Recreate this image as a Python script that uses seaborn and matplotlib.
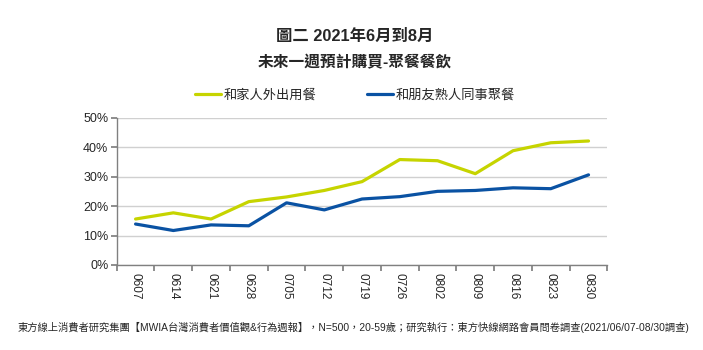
import pandas as pd
import numpy as np
import matplotlib
matplotlib.use("Agg")
import matplotlib.pyplot as plt
import seaborn as sns

# data (percent)
weeks = ["0607", "0614", "0621", "0628", "0705", "0712", "0719",
         "0726", "0802", "0809", "0816", "0823", "0830"]
family_out = [15.6, 17.7, 15.6, 21.5, 23.1, 25.3, 28.3, 35.8, 35.4, 31.0, 38.8, 41.5, 42.1]
friends_out = [13.9, 11.7, 13.6, 13.3, 21.1, 18.7, 22.4, 23.2, 25.0, 25.3, 26.2, 25.9, 30.6]
series_names = ["和家人外出用餐", "和朋友熟人同事聚餐"]
yticks = [0, 10, 20, 30, 40, 50]

title1 = "圖二 2021年6月到8月"
title2 = "未來一週預計購買-聚餐餐飲"
footnote = ("東方線上消費者研究集團【MWIA台灣消費者價值觀&行為週報】，N=500，20-59歲；"
            "研究執行：東方快線網路會員問卷調查(2021/06/07-08/30調查)")

sns.set_theme(style="white")
plt.rcParams["font.family"] = ["Liberation Sans", "Noto Sans CJK TC", "DejaVu Sans"]

df = pd.DataFrame({
    "week": weeks * 2,
    "pos": list(range(len(weeks))) * 2,
    "value": family_out + friends_out,
    "series": [series_names[0]] * len(weeks) + [series_names[1]] * len(weeks),
})
palette = {series_names[0]: "#C6D400", series_names[1]: "#0A52A3"}

fig = plt.figure(figsize=(7.03, 3.5), dpi=100)
ax = fig.add_axes([0.166, 0.243, 0.698, 0.4206])

sns.lineplot(data=df, x="pos", y="value", hue="series", palette=palette,
             linewidth=2.3, ax=ax, legend=False, zorder=3)

ax.set_xlim(-0.5, len(weeks) - 0.5)
ax.set_ylim(0, 50)
ax.set_yticks(yticks)
ax.set_yticklabels([f"{v}%" for v in yticks], fontsize=9)
ax.set_xticks(np.arange(-0.5, len(weeks), 1.0))
ax.set_xticklabels([])
ax.set_xticks(range(len(weeks)), minor=True)
ax.set_xticklabels(weeks, minor=True, rotation=-90, fontsize=8.5)
ax.tick_params(axis="x", which="major", length=4, color="#808080", direction="out", bottom=True)
ax.tick_params(axis="x", which="minor", length=0, pad=6)
ax.tick_params(axis="y", length=4, color="#808080", direction="out", left=True, pad=2)
ax.set_xlabel("")
ax.set_ylabel("")

ax.grid(axis="y", color="#D0D0D0", linewidth=1)
ax.set_axisbelow(True)
for s in ["top", "right"]:
    ax.spines[s].set_visible(False)
for s in ["left", "bottom"]:
    ax.spines[s].set_color("#808080")
    ax.spines[s].set_linewidth(1)

fig.text(0.505, 0.895, title1, ha="center", va="center", fontsize=11.8, fontweight="bold")
fig.text(0.505, 0.82, title2, ha="center", va="center", fontsize=11.3, fontweight="bold")

handles = [plt.Line2D([], [], color=palette[n], linewidth=2.3) for n in series_names]
fig.legend(handles, series_names, loc="center", bbox_to_anchor=(0.505, 0.728), ncol=2,
           frameon=False, fontsize=9.5, handlelength=2.0, handletextpad=0.2,
           columnspacing=3.8)

fig.text(0.503, 0.063, footnote, ha="center", va="center", fontsize=7.4)

fig.savefig("out.png", dpi=100)
